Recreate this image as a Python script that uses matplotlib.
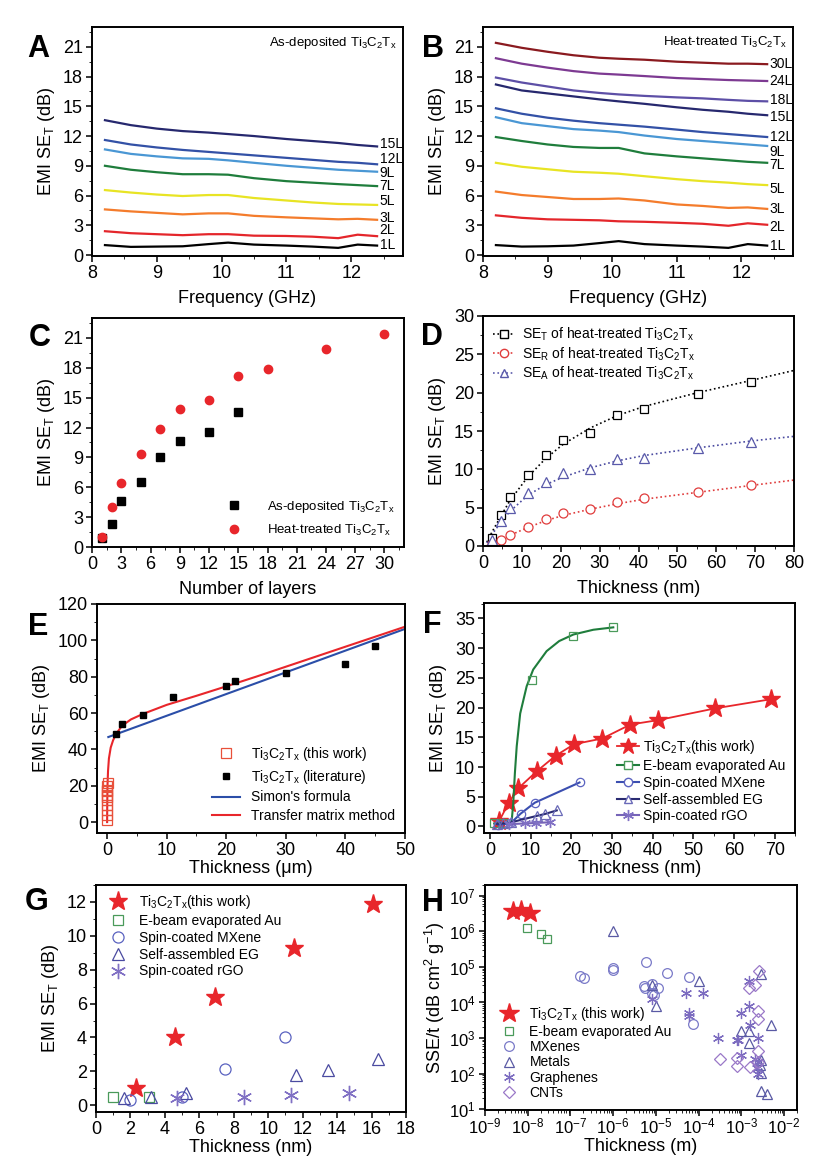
import numpy as np
import matplotlib
matplotlib.use("Agg")
import matplotlib.pyplot as plt
from matplotlib.ticker import MultipleLocator, LogLocator, NullFormatter

plt.rcParams.update({
    "font.family": ["Liberation Sans", "DejaVu Sans"],
    "mathtext.default": "regular",
    "font.size": 12,
    "xtick.labelsize": 13, "ytick.labelsize": 13,
    "axes.linewidth": 1.4,
    "xtick.direction": "out", "ytick.direction": "out",
    "xtick.major.size": 4, "ytick.major.size": 4,
    "xtick.minor.size": 2, "ytick.minor.size": 2,
    "xtick.major.width": 1.1, "ytick.major.width": 1.1,
    "xtick.major.pad": 2.5, "ytick.major.pad": 2.5,
    "legend.frameon": False,
})

TI = "Ti$_3$C$_2$T$_x$"
AST = (6, 2, 0)  # asterisk marker

# ---------------- data ----------------
freq = [8.2, 8.6, 9.0, 9.4, 9.8, 10.1, 10.5, 11.0, 11.4, 11.8, 12.1, 12.4]

# A: as-deposited films
a_labels = ["1L", "2L", "3L", "5L", "7L", "9L", "12L", "15L"]
a_curves = [
    [1.0, 0.82, 0.85, 0.88, 1.1, 1.25, 1.05, 0.95, 0.85, 0.72, 1.05, 0.95],
    [2.4, 2.2, 2.1, 2.0, 2.1, 2.1, 1.95, 1.92, 1.85, 1.7, 2.05, 1.9],
    [4.6, 4.4, 4.25, 4.1, 4.2, 4.2, 3.95, 3.8, 3.7, 3.6, 3.65, 3.55],
    [6.55, 6.3, 6.1, 5.95, 6.05, 6.05, 5.75, 5.5, 5.3, 5.15, 5.1, 5.05],
    [9.0, 8.6, 8.35, 8.15, 8.15, 8.1, 7.75, 7.45, 7.3, 7.15, 7.05, 6.95],
    [10.65, 10.2, 9.95, 9.75, 9.7, 9.55, 9.3, 9.0, 8.8, 8.6, 8.5, 8.4],
    [11.6, 11.15, 10.85, 10.6, 10.4, 10.25, 10.05, 9.8, 9.6, 9.4, 9.3, 9.15],
    [13.6, 13.1, 12.75, 12.5, 12.35, 12.2, 12.0, 11.7, 11.5, 11.3, 11.1, 10.95],
]
a_label_y = [1.0, 2.5, 3.7, 5.4, 6.95, 8.3, 9.65, 11.2]

# B: heat-treated films
b_labels = ["1L", "2L", "3L", "5L", "7L", "9L", "12L", "15L", "18L", "24L", "30L"]
b_curves = [
    [1.0, 0.85, 0.88, 0.95, 1.2, 1.4, 1.1, 0.95, 0.85, 0.72, 1.1, 0.95],
    [4.0, 3.75, 3.6, 3.55, 3.5, 3.4, 3.35, 3.25, 3.15, 2.95, 3.2, 3.05],
    [6.4, 6.05, 5.85, 5.65, 5.65, 5.7, 5.5, 5.1, 4.95, 4.75, 4.8, 4.65],
    [9.3, 8.9, 8.65, 8.4, 8.3, 8.2, 7.95, 7.65, 7.45, 7.3, 7.15, 7.05],
    [11.9, 11.5, 11.15, 10.9, 10.8, 10.8, 10.25, 9.95, 9.75, 9.55, 9.4, 9.3],
    [13.9, 13.3, 13.0, 12.7, 12.55, 12.4, 12.05, 11.7, 11.5, 11.3, 11.15, 11.0],
    [14.8, 14.25, 13.85, 13.55, 13.3, 13.15, 12.95, 12.65, 12.4, 12.2, 12.05, 11.9],
    [17.2, 16.6, 16.3, 16.0, 15.7, 15.5, 15.25, 14.9, 14.65, 14.45, 14.25, 14.1],
    [17.9, 17.4, 17.0, 16.6, 16.35, 16.2, 16.05, 15.9, 15.8, 15.65, 15.55, 15.5],
    [19.85, 19.3, 18.9, 18.55, 18.3, 18.2, 18.05, 17.85, 17.75, 17.65, 17.6, 17.55],
    [21.4, 20.9, 20.5, 20.15, 19.9, 19.8, 19.7, 19.5, 19.4, 19.3, 19.3, 19.25],
]
b_label_y = [0.9, 2.85, 4.6, 6.7, 9.05, 10.4, 11.95, 13.9, 15.65, 17.6, 19.25]

layer_colors = {
    "1L": "#000000", "2L": "#e4262b", "3L": "#f47c2c", "5L": "#e8e424",
    "7L": "#1f7d3c", "9L": "#4a97d4", "12L": "#3351a6", "15L": "#26286e",
    "18L": "#5d4fa6", "24L": "#7d3a92", "30L": "#8a1a1f",
}

# C: SE_T vs layers
c_layers_as = [1, 2, 3, 5, 7, 9, 12, 15]
c_se_as = [0.95, 2.35, 4.65, 6.55, 9.0, 10.65, 11.6, 13.6]
c_layers_ht = [1, 2, 3, 5, 7, 9, 12, 15, 18, 24, 30]
c_se_ht = [1.0, 4.0, 6.4, 9.3, 11.85, 13.85, 14.8, 17.15, 17.9, 19.85, 21.4]

# D: SE components vs thickness (nm)
d_thick = [2.3, 4.6, 6.9, 11.5, 16.1, 20.7, 27.6, 34.5, 41.4, 55.2, 69.0]
d_se_t = [1.0, 4.0, 6.4, 9.3, 11.9, 13.85, 14.8, 17.15, 17.9, 19.85, 21.4]
d_se_r = [0.2, 0.75, 1.4, 2.5, 3.5, 4.3, 4.8, 5.8, 6.3, 7.0, 7.9]
d_se_a = [0.8, 3.3, 5.0, 6.9, 8.4, 9.5, 10.0, 11.3, 11.5, 12.8, 13.6]
d_fit_x = [1, 2.3, 4.6, 6.9, 11.5, 16.1, 20.7, 27.6, 34.5, 41.4, 55.2, 69, 80]
d_fit_t = [0.5, 1.8, 3.9, 5.9, 9.0, 11.4, 13.3, 15.4, 17.0, 18.2, 20.0, 21.6, 22.9]
d_fit_r = [0.05, 0.3, 0.8, 1.4, 2.4, 3.3, 4.0, 4.8, 5.5, 6.1, 7.0, 7.9, 8.6]
d_fit_a = [0.4, 1.5, 3.1, 4.5, 6.6, 8.0, 9.0, 10.2, 11.1, 11.8, 12.8, 13.7, 14.3]

# E: thick films (um)
e_this_x = [0.0023, 0.0046, 0.0069, 0.0115, 0.0161, 0.0207, 0.0276, 0.0345, 0.0414, 0.0552, 0.069]
e_this_y = [1.0, 4.0, 6.4, 9.3, 11.9, 13.85, 14.8, 17.15, 17.9, 19.85, 21.4]
e_lit_x = [1.5, 2.5, 6, 11, 20, 21.5, 30, 40, 45]
e_lit_y = [48.5, 54, 59, 69, 75, 77.5, 82, 87, 97]
e_simon_x = [0.2, 50]
e_simon_y = [46.8, 106.3]
e_tmm_x = [0, 0.02, 0.06, 0.15, 0.3, 0.6, 1.0, 1.5, 2.5, 4, 6, 10, 15, 20, 25, 30, 40, 50]
e_tmm_y = [0, 10, 20, 28, 35, 41, 45, 48.5, 53, 56.5, 59.5, 64.5, 69.5, 74.7, 80, 85.5, 96.5, 107.5]

# F / G: comparison with other thin films (nm)
au_x = [1.0, 3.1, 10.4, 20.3, 30.2]
au_y = [0.5, 0.5, 24.6, 32.1, 33.5]
au_curve_x = [1.0, 3.1, 5.0, 5.3, 5.7, 6.1, 6.55, 7.4, 9.0, 10.6, 13.9, 17.0, 20.5, 25.4, 30.3]
au_curve_y = [0.5, 0.5, 0.5, 0.8, 4.0, 9.0, 13.5, 19.0, 23.6, 26.4, 29.5, 31.2, 32.3, 33.1, 33.5]
mx_x = [2.0, 5.0, 7.5, 11.0, 22.0]
mx_y = [0.3, 0.5, 2.15, 4.0, 7.4]
eg_x = [1.6, 3.2, 5.2, 11.6, 13.5, 16.4]
eg_y = [0.45, 0.5, 0.7, 1.8, 2.1, 2.7]
rgo_x = [4.7, 8.6, 11.3, 14.7]
rgo_y = [0.4, 0.5, 0.6, 0.7]

# H: specific shielding effectiveness
h_ti_x = [4.6e-9, 6.9e-9, 1.15e-8]
h_ti_y = [3.7e6, 3.9e6, 3.3e6]
h_au_x = [9.8e-9, 2.0e-8, 2.9e-8]
h_au_y = [1.25e6, 8.5e5, 5.9e5]
h_mx_x = [1.66e-7, 2.1e-7, 9.8e-7, 1.0e-6, 5.9e-6, 5.4e-6, 5.6e-6, 8.3e-6, 1.1e-5,
          8.1e-6, 9.2e-6, 1.8e-5, 6.0e-5, 7.4e-5]
h_mx_y = [5.5e4, 4.8e4, 9.3e4, 8.0e4, 1.35e5, 2.9e4, 2.5e4, 3.3e4, 2.6e4,
          1.9e4, 1.6e4, 6.9e4, 5.3e4, 2.5e3]
h_me_x = [1.0e-6, 8.3e-6, 1.0e-5, 1.0e-4, 2.9e-3, 5.0e-3, 1.0e-3, 1.5e-3, 1.5e-3,
          2.9e-3, 2.7e-3, 2.9e-3, 2.9e-3, 3.9e-3]
h_me_y = [1.05e6, 3.1e4, 7.9e3, 3.9e4, 6.4e4, 2.3e3, 1.55e3, 1.6e3, 740,
          245, 170, 107, 31.6, 26.7]
h_gr_x = [8.3e-6, 5.1e-5, 1.25e-4, 6.1e-5, 6.1e-5, 2.9e-4, 7.7e-4, 8.4e-4, 1.0e-3,
          1.5e-3, 1.5e-3, 1.6e-3, 2.4e-3, 1.0e-3, 2.1e-3, 2.4e-3, 2.35e-3, 2.4e-3]
h_gr_y = [1.26e4, 1.8e4, 1.8e4, 5.2e3, 4.3e3, 1.0e3, 870, 860, 5.0e3,
          8.0e3, 4.0e4, 2.3e3, 980, 340, 260, 210, 140, 100]
h_cnt_x = [3.1e-4, 7.7e-4, 7.7e-4, 1.6e-3, 1.5e-3, 2.1e-3, 2.6e-3, 2.4e-3, 2.4e-3,
           2.4e-3, 2.4e-3]
h_cnt_y = [265, 270, 160, 155, 2.6e4, 3.0e4, 7.6e4, 5.9e3, 3.4e3, 420, 210]
h_xticks = [1e-9, 1e-8, 1e-7, 1e-6, 1e-5, 1e-4, 1e-3, 1e-2]
h_yticks = [1e1, 1e2, 1e3, 1e4, 1e5, 1e6, 1e7]

RED = "#e8262b"
GREEN = "#1f7d3c"
GREEN_M = "#4a9a5a"
BLUE = "#3b4fb0"
NAVY = "#2a2b72"
PURPLE = "#7664b8"

# ---------------- layout ----------------
W, H = 839, 1164
fig = plt.figure(figsize=(W / 100, H / 100), dpi=100)


def axbox(l, t, r, b):
    return fig.add_axes([l / W, 1 - b / H, (r - l) / W, (b - t) / H])


def letter(x, y, s):
    fig.text(x / W, 1 - y / H, s, fontsize=22, fontweight="bold",
             ha="center", va="center")


def freq_panel(ax, labels, curves, label_y, title):
    for lab, ys, ly in zip(labels, curves, label_y):
        ax.plot(freq, ys, color=layer_colors[lab], lw=1.6)
        ax.text(12.44, ly, lab, fontsize=10, va="center", ha="left")
    ax.set_xlim(8, 12.8)
    ax.set_ylim(-0.1, 23)
    ax.xaxis.set_major_locator(MultipleLocator(1))
    ax.xaxis.set_minor_locator(MultipleLocator(0.5))
    ax.yaxis.set_major_locator(MultipleLocator(3))
    ax.yaxis.set_minor_locator(MultipleLocator(1.5))
    ax.set_xlabel("Frequency (GHz)", fontsize=13, labelpad=6)
    ax.set_ylabel("EMI SE$_T$ (dB)", fontsize=13)
    ax.text(0.98, 0.965, title, transform=ax.transAxes, ha="right", va="top",
            fontsize=9.5)


# A
ax = axbox(92, 27, 403, 256)
freq_panel(ax, a_labels, a_curves, a_label_y, "As-deposited " + TI)
letter(38, 49, "A")

# B
ax = axbox(483, 27, 793, 256)
freq_panel(ax, b_labels, b_curves, b_label_y, "Heat-treated " + TI)
letter(433, 49, "B")

# C
ax = axbox(92, 318, 404, 547)
ax.plot(c_layers_as, c_se_as, "s", color="black", ms=5.5, label="As-deposited " + TI)
ax.plot(c_layers_ht, c_se_ht, "o", color=RED, ms=6, label="Heat-treated " + TI)
ax.set_xlim(0, 32)
ax.set_ylim(0, 23)
ax.xaxis.set_major_locator(MultipleLocator(3))
ax.xaxis.set_minor_locator(MultipleLocator(1.5))
ax.yaxis.set_major_locator(MultipleLocator(3))
ax.yaxis.set_minor_locator(MultipleLocator(1.5))
ax.set_xlabel("Number of layers", fontsize=13, labelpad=6)
ax.set_ylabel("EMI SE$_T$ (dB)", fontsize=13)
ax.legend(loc="lower right", fontsize=9.5, handletextpad=1.5, borderaxespad=0.3,
          labelspacing=0.6)
letter(40, 338, "C")

# D
ax = axbox(483, 316, 794, 546)
ax.plot(d_fit_x, d_fit_t, ":", color="black", lw=1.2)
ax.plot(d_fit_x, d_fit_r, ":", color="#e03c3c", lw=1.2)
ax.plot(d_fit_x, d_fit_a, ":", color="#4a4aa0", lw=1.2)
ax.plot(d_thick, d_se_t, "s", mfc="white", mec="black", ms=6, mew=0.9)
ax.plot(d_thick, d_se_r, "o", mfc="white", mec="#e03c3c", ms=6.5, mew=0.9)
ax.plot(d_thick, d_se_a, "^", mfc="white", mec="#5a5aaa", ms=7, mew=0.9)
hT, = ax.plot([], [], ":s", color="black", mfc="white", ms=6, lw=1.2)
hR, = ax.plot([], [], ":o", color="#e03c3c", mfc="white", ms=6, lw=1.2)
hA, = ax.plot([], [], ":^", color="#5a5aaa", mfc="white", ms=6, lw=1.2)
ax.legend([hT, hR, hA],
          ["SE$_T$ of heat-treated " + TI, "SE$_R$ of heat-treated " + TI,
           "SE$_A$ of heat-treated " + TI],
          loc="upper left", fontsize=10, handlelength=1.6, labelspacing=0.15,
          borderaxespad=0.3, handletextpad=0.5)
ax.set_xlim(0, 80)
ax.set_ylim(0, 30)
ax.xaxis.set_major_locator(MultipleLocator(10))
ax.xaxis.set_minor_locator(MultipleLocator(5))
ax.yaxis.set_major_locator(MultipleLocator(5))
ax.yaxis.set_minor_locator(MultipleLocator(2.5))
ax.set_xlabel("Thickness (nm)", fontsize=13, labelpad=6)
ax.set_ylabel("EMI SE$_T$ (dB)", fontsize=13)
letter(432, 337, "D")

# E
ax = axbox(97, 604, 405, 833)
ax.plot(e_simon_x, e_simon_y, color="#2b4ea8", lw=1.5, label="Simon's formula")
ax.plot(e_tmm_x, e_tmm_y, color=RED, lw=1.5, label="Transfer matrix method")
ax.plot(e_this_x, e_this_y, "s", mfc="none", mec="#e8503a", ms=6.5, mew=0.9,
        label=TI + " (this work)")
ax.plot(e_lit_x, e_lit_y, "s", color="black", ms=5, label=TI + " (literature)")
hh, ll = ax.get_legend_handles_labels()
ax.legend([hh[2], hh[3], hh[0], hh[1]], [ll[2], ll[3], ll[0], ll[1]],
          loc="lower right", fontsize=10, labelspacing=0.35, borderaxespad=0.3)
ax.set_xlim(-1.7, 50)
ax.set_ylim(-6, 120)
ax.xaxis.set_major_locator(MultipleLocator(10))
ax.xaxis.set_minor_locator(MultipleLocator(5))
ax.yaxis.set_major_locator(MultipleLocator(20))
ax.yaxis.set_minor_locator(MultipleLocator(10))
ax.set_xlabel("Thickness (\u03bcm)", fontsize=13, labelpad=1)
ax.set_ylabel("EMI SE$_T$ (dB)", fontsize=13)
letter(38, 627, "E")

# F
ax = axbox(484, 603, 795, 833)
ax.plot(d_thick, d_se_t, "-*", color=RED, ms=14, lw=1.3)
ax.plot(au_curve_x, au_curve_y, "-", color=GREEN, lw=1.5)
ax.plot(au_x, au_y, "s", mfc="none", mec=GREEN_M, ms=6, mew=0.9)
ax.plot(mx_x, mx_y, "-", color=BLUE, lw=1.5)
ax.plot(mx_x, mx_y, "o", mfc="none", mec="#5a62c0", ms=6, mew=0.9)
ax.plot(eg_x, eg_y, "-", color=NAVY, lw=1.5)
ax.plot(eg_x, eg_y, "^", mfc="none", mec="#6a6ab8", ms=6.5, mew=0.9)
ax.plot(rgo_x, rgo_y, "-", color=PURPLE, lw=1.5)
ax.plot(rgo_x, rgo_y, marker=AST, ls="none", color="#8070c4", ms=8, mew=1.0)
hs = [
    ax.plot([], [], "-*", color=RED, ms=12, lw=1.3)[0],
    ax.plot([], [], "-s", color=GREEN, mfc="white", mec=GREEN_M, ms=6)[0],
    ax.plot([], [], "-o", color=BLUE, mfc="white", mec="#5a62c0", ms=6)[0],
    ax.plot([], [], "-^", color=NAVY, mfc="white", mec="#6a6ab8", ms=6)[0],
    ax.plot([], [], "-", marker=AST, color=PURPLE, mec="#8070c4", ms=8)[0],
]
ax.legend(hs, [TI + "(this work)", "E-beam evaporated Au", "Spin-coated MXene",
               "Self-assembled EG", "Spin-coated rGO"],
          loc="lower right", fontsize=10, labelspacing=0.2, handlelength=1.6,
          handletextpad=0.3, borderaxespad=0.3)
ax.set_xlim(-1.5, 75)
ax.set_ylim(-1.1, 37.6)
ax.xaxis.set_major_locator(MultipleLocator(10))
ax.xaxis.set_minor_locator(MultipleLocator(5))
ax.yaxis.set_major_locator(MultipleLocator(5))
ax.yaxis.set_minor_locator(MultipleLocator(2.5))
ax.set_xlabel("Thickness (nm)", fontsize=13, labelpad=1)
ax.set_ylabel("EMI SE$_T$ (dB)", fontsize=13)
letter(432, 625, "F")

# G
ax = axbox(96, 885, 406, 1112)
ax.plot(d_thick[:5], d_se_t[:5], "*", color=RED, ms=14, label=TI + "(this work)")
ax.plot(au_x[:2], au_y[:2], "s", mfc="none", mec=GREEN_M, ms=7, mew=0.9,
        label="E-beam evaporated Au")
ax.plot(mx_x[:4], mx_y[:4], "o", mfc="none", mec="#5a62c0", ms=8, mew=0.9,
        label="Spin-coated MXene")
ax.plot(eg_x, eg_y, "^", mfc="none", mec="#4a4aa0", ms=9, mew=0.9,
        label="Self-assembled EG")
ax.plot(rgo_x, rgo_y, marker=AST, ls="none", color="#8070c4", ms=11, mew=1.0,
        label="Spin-coated rGO")
ax.legend(loc="upper left", fontsize=10, labelspacing=0.2, handletextpad=0.5,
          borderaxespad=0.2)
ax.set_xlim(0, 18)
ax.set_ylim(-0.4, 13)
ax.xaxis.set_major_locator(MultipleLocator(2))
ax.xaxis.set_minor_locator(MultipleLocator(1))
ax.yaxis.set_major_locator(MultipleLocator(2))
ax.yaxis.set_minor_locator(MultipleLocator(1))
ax.set_xlabel("Thickness (nm)", fontsize=13, labelpad=1)
ax.set_ylabel("EMI SE$_T$ (dB)", fontsize=13)
letter(37, 902, "G")

# H
ax = axbox(485, 885, 797, 1110)
ax.set_xscale("log")
ax.set_yscale("log")
ax.plot(h_ti_x, h_ti_y, "*", color=RED, ms=15, label=TI + " (this work)")
ax.plot(h_au_x, h_au_y, "s", mfc="none", mec=GREEN_M, ms=6, mew=0.9,
        label="E-beam evaporated Au")
ax.plot(h_mx_x, h_mx_y, "o", mfc="none", mec="#7a7ac8", ms=7, mew=0.9,
        label="MXenes")
ax.plot(h_me_x, h_me_y, "^", mfc="none", mec="#5a5aa4", ms=7.5, mew=0.9,
        label="Metals")
ax.plot(h_gr_x, h_gr_y, marker=AST, ls="none", color="#7c6cc0", ms=8, mew=0.9,
        label="Graphenes")
ax.plot(h_cnt_x, h_cnt_y, "D", mfc="none", mec="#9a78c8", ms=6.5, mew=0.9,
        label="CNTs")
ax.legend(loc="lower left", fontsize=10, labelspacing=0.1, handletextpad=0.5,
          borderaxespad=0.3)
ax.set_xlim(1e-9, 2e-2)
ax.set_ylim(9.5, 2e7)
ax.set_xticks(h_xticks)
ax.set_yticks(h_yticks)
ax.xaxis.set_minor_locator(LogLocator(base=10, subs=np.arange(2, 10), numticks=20))
ax.xaxis.set_minor_formatter(NullFormatter())
ax.yaxis.set_minor_locator(LogLocator(base=10, subs=np.arange(2, 10), numticks=20))
ax.yaxis.set_minor_formatter(NullFormatter())
ax.tick_params(axis="both", which="major", labelsize=12)
ax.tick_params(axis="x", which="major", pad=1)
ax.tick_params(axis="y", which="major", pad=3)
ax.set_xlabel("Thickness (m)", fontsize=13, labelpad=1)
ax.set_ylabel("SSE/t (dB cm$^2$ g$^{-1}$)", fontsize=13, labelpad=1)
letter(433, 903, "H")

fig.savefig("out.png", dpi=100)
